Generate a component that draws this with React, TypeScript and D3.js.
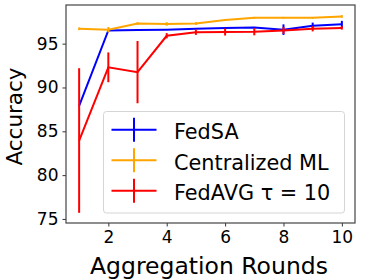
import { useEffect, useRef } from 'react'
import * as d3 from 'd3'

const rounds = [1, 2, 3, 4, 5, 6, 7, 8, 9, 10]
const fedsaMean = [87.9, 96.5, 96.55, 96.6, 96.7, 96.8, 96.85, 96.6, 97.05, 97.2]
const fedsaErr = [0, 0, 0, 0, 0, 0, 0, 0.6, 0.35, 0.4]
const centralMean = [96.7, 96.6, 97.3, 97.25, 97.3, 97.7, 97.95, 97.95, 97.95, 98.1]
const centralErr = [0.15, 0.3, 0.15, 0.2, 0.15, 0.1, 0.1, 0.1, 0.1, 0.15]
const fedavgMean = [83.95, 92.3, 91.75, 95.9, 96.3, 96.33, 96.35, 96.5, 96.7, 96.8]
const fedavgErr = [8.25, 1.7, 3.55, 0.3, 0.3, 0.4, 0.4, 0.4, 0.3, 0.2]
const xTicks = [2, 4, 6, 8, 10]
const yTicks = [75, 80, 85, 90, 95]

const seriesList = [
  { name: 'FedSA', color: '#0000ff', mean: fedsaMean, err: fedsaErr },
  { name: 'Centralized ML', color: '#ffa500', mean: centralMean, err: centralErr },
  { name: 'FedAVG τ = 10', color: '#ff0000', mean: fedavgMean, err: fedavgErr },
]

export default function App() {
  const svgRef = useRef<SVGSVGElement>(null)

  useEffect(() => {
    if (!svgRef.current) return
    const svg = d3.select(svgRef.current)
    svg.selectAll('*').remove()

    const margin = { top: 5, right: 11, bottom: 57, left: 66 }
    const width = 366 - margin.left - margin.right
    const height = 280 - margin.top - margin.bottom
    const font = 'DejaVu Sans, sans-serif'

    const x = d3.scaleLinear().domain([0.55, 10.45]).range([0, width])
    const y = d3.scaleLinear().domain([74.54, 99.41]).range([height, 0])

    const g = svg.append('g').attr('transform', `translate(${margin.left},${margin.top})`)

    const line = d3.line<number>()
      .x((_, i) => x(rounds[i]))
      .y(d => y(d))

    // lines with error bars
    seriesList.forEach(s => {
      g.append('path')
        .datum(s.mean)
        .attr('d', line)
        .style('fill', 'none')
        .style('stroke', s.color)
        .style('stroke-width', 2)

      g.selectAll(null)
        .data(s.mean)
        .enter().append('line')
        .attr('x1', (_, i) => x(rounds[i]))
        .attr('x2', (_, i) => x(rounds[i]))
        .attr('y1', (d, i) => y(d - s.err[i]))
        .attr('y2', (d, i) => y(d + s.err[i]))
        .style('stroke', s.color)
        .style('stroke-width', 2)
    })

    // axes
    const xAxis = g.append('g')
      .attr('transform', `translate(0,${height})`)
      .call(d3.axisBottom(x).tickValues(xTicks).tickSize(3.5).tickPadding(4))
    const yAxis = g.append('g')
      .call(d3.axisLeft(y).tickValues(yTicks).tickSize(3.5).tickPadding(4))

    ;[xAxis, yAxis].forEach(a => {
      a.select('.domain').remove()
      a.selectAll('line').style('stroke', '#333').style('stroke-width', 1)
      a.selectAll('text').style('font-family', font).style('font-size', '17px').style('fill', '#000')
    })

    g.append('rect')
      .attr('width', width)
      .attr('height', height)
      .style('fill', 'none')
      .style('stroke', '#444')
      .style('stroke-width', 1.2)

    // axis titles
    svg.append('text')
      .attr('x', 209)
      .attr('y', 274)
      .attr('text-anchor', 'middle')
      .style('font-family', font)
      .style('font-size', '23.5px')
      .text('Aggregation Rounds')

    svg.append('text')
      .attr('transform', 'translate(22,116.5) rotate(-90)')
      .attr('text-anchor', 'middle')
      .style('font-family', font)
      .style('font-size', '21.5px')
      .text('Accuracy')

    // legend
    const legend = svg.append('g').attr('transform', 'translate(103.5,111.5)')
    legend.append('rect')
      .attr('width', 241)
      .attr('height', 101.5)
      .attr('rx', 3)
      .style('fill', 'rgba(255,255,255,0.8)')
      .style('stroke', '#d5d5d5')
      .style('stroke-width', 1)

    seriesList.forEach((s, i) => {
      const row = legend.append('g').attr('transform', `translate(0,${18.2 + i * 30.5})`)
      row.append('line')
        .attr('x1', 8).attr('x2', 53)
        .style('stroke', s.color).style('stroke-width', 2)
      row.append('line')
        .attr('x1', 30.5).attr('x2', 30.5)
        .attr('y1', -12).attr('y2', 12)
        .style('stroke', s.color).style('stroke-width', 2)
      row.append('text')
        .attr('x', 70.5)
        .attr('y', 9.5)
        .style('font-family', font)
        .style('font-size', '20.8px')
        .text(s.name)
    })
  }, [])

  return <svg ref={svgRef} width={366} height={280} style={{ position: 'absolute', left: 0, top: 0 }} />
}
